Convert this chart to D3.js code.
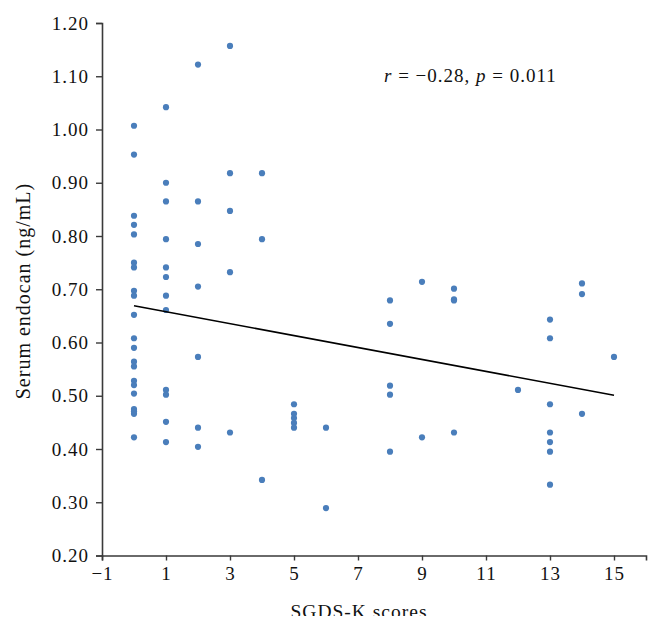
<!DOCTYPE html>
<html>
<head>
<meta charset="utf-8">
<script src="https://cdn.jsdelivr.net/npm/d3@7"></script>
<style>
  html, body { margin: 0; padding: 0; background: #fff; }
  svg { display: block; }
  text { font-family: "Liberation Serif", "Times New Roman", serif; fill: #111; }
</style>
</head>
<body>
<div id="chart"></div>
<script>
// Scores (x) and serum endocan (y)
const scores = [
  0,0,0,0,0,0,0,0,0,0,0,0,0,0,0,0,0,0,0,0,0,
  1,1,1,1,1,1,1,1,1,1,1,1,
  2,2,2,2,2,2,2,
  3,3,3,3,3,
  4,4,4,
  5,5,5,5,5,
  6,6,
  8,8,8,8,8,
  9,9,
  10,10,10,10,
  12,
  13,13,13,13,13,13,13,
  14,14,14,
  15
];
const endocan = [
  1.007,0.953,0.838,0.821,0.803,0.750,0.741,0.697,0.688,0.652,0.608,0.590,0.564,0.555,0.528,0.520,0.504,0.475,0.471,0.466,0.422,
  1.042,0.900,0.865,0.794,0.741,0.723,0.688,0.661,0.511,0.502,0.451,0.413,
  1.122,0.865,0.785,0.705,0.573,0.440,0.404,
  1.157,0.918,0.847,0.732,0.431,
  0.918,0.794,0.342,
  0.484,0.466,0.458,0.449,0.440,
  0.440,0.289,
  0.679,0.635,0.519,0.502,0.395,
  0.714,0.422,
  0.701,0.681,0.679,0.431,
  0.511,
  0.643,0.608,0.484,0.431,0.413,0.395,0.333,
  0.711,0.691,0.466,
  0.573
];
// Trend line end points
const trendX = [0, 15];
const trendY = [0.669, 0.501];
// Axis ticks
const xTicks = [-1, 1, 3, 5, 7, 9, 11, 13, 15];
const yTicks = [0.20, 0.30, 0.40, 0.50, 0.60, 0.70, 0.80, 0.90, 1.00, 1.10, 1.20];
const annotation = ["r", " = \u22120.28, ", "p", " = 0.011"];
const xTitle = "SGDS-K scores";
const yTitle = "Serum endocan (ng/mL)";

const W = 660, H = 630;
const svg = d3.select("#chart").append("svg")
  .attr("width", W).attr("height", H);

svg.append("defs").append("clipPath").attr("id", "pageclip")
  .append("rect").attr("x", 0).attr("y", 0).attr("width", W).attr("height", 616);

const root = svg.append("g").attr("clip-path", "url(#pageclip)");

const x = d3.scaleLinear().domain([-1, 16]).range([102, 646]);
const y = d3.scaleLinear().domain([0.2, 1.2]).range([555.5, 23]);

const axisColor = "#3a3a3a";
const tickFont = { size: "19px", spacing: "1px" };

// X axis
const xAxis = root.append("g").attr("transform", `translate(0,${y(0.2)})`)
  .call(d3.axisBottom(x).tickValues(xTicks).tickSizeOuter(0).tickSize(5).tickPadding(6)
    .tickFormat(d => d < 0 ? "\u2212" + Math.abs(d) : String(d)));
xAxis.select(".domain").attr("stroke", axisColor).attr("stroke-width", 1.6);
xAxis.selectAll(".tick line").attr("stroke", axisColor).attr("stroke-width", 1.4);
xAxis.selectAll(".tick text").attr("font-size", tickFont.size)
  .attr("letter-spacing", tickFont.spacing)
  .attr("font-family", "Liberation Serif").attr("fill", "#111");

// Y axis
const yAxis = root.append("g").attr("transform", `translate(${x(-1)},0)`)
  .call(d3.axisLeft(y).tickValues(yTicks).tickSizeOuter(0).tickSize(6).tickPadding(7)
    .tickFormat(d3.format(".2f")));
yAxis.select(".domain").attr("stroke", axisColor).attr("stroke-width", 1.6);
yAxis.selectAll(".tick line").attr("stroke", axisColor).attr("stroke-width", 1.4);
yAxis.selectAll(".tick text").attr("font-size", tickFont.size)
  .attr("letter-spacing", tickFont.spacing)
  .attr("font-family", "Liberation Serif").attr("fill", "#111");

// Points
const pts = scores.map((s, i) => ({ s, v: endocan[i] }));
root.append("g").selectAll("circle").data(pts).join("circle")
  .attr("cx", d => x(d.s)).attr("cy", d => y(d.v)).attr("r", 3.1)
  .attr("fill", "#4a7ebb");

// Trend line
const trend = trendX.map((t, i) => [t, trendY[i]]);
root.append("path")
  .attr("d", d3.line().x(d => x(d[0])).y(d => y(d[1]))(trend))
  .attr("fill", "none").attr("stroke", "#000").attr("stroke-width", 1.6);

// Annotation
const ann = root.append("text").attr("x", 384).attr("y", 82)
  .attr("font-size", "19px").attr("letter-spacing", "1px");
annotation.forEach((t, i) => {
  ann.append("tspan").text(t).attr("font-style", (i % 2 === 0) ? "italic" : "normal");
});

// Axis titles
root.append("text").attr("x", 359).attr("y", 618)
  .attr("text-anchor", "middle").attr("font-size", "19.5px").attr("letter-spacing", "1px")
  .text(xTitle);
root.append("text").attr("transform", "translate(30,291) rotate(-90)")
  .attr("text-anchor", "middle").attr("font-size", "20px").attr("letter-spacing", "1px")
  .text(yTitle);
</script>
</body>
</html>
